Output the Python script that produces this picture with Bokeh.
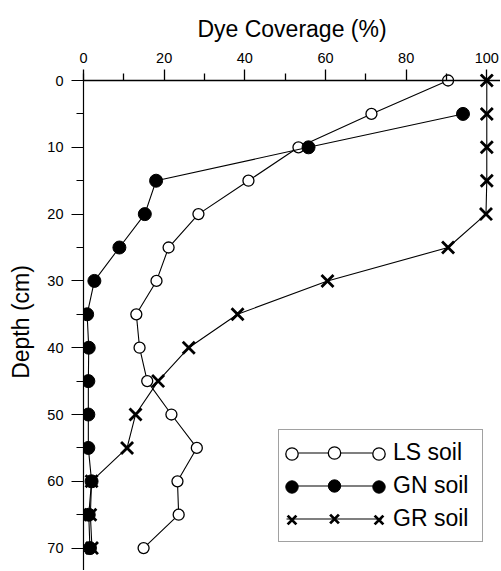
from bokeh.plotting import figure
from bokeh.models import Range1d, LinearAxis, FixedTicker, Legend, LegendItem, Span
from bokeh.core.properties import value
from bokeh.embed import file_html
from bokeh.resources import INLINE

# ---- data ----
depth = [0, 5, 10, 15, 20, 25, 30, 35, 40, 45, 50, 55, 60, 65, 70]
ls_cov = [90.4, 71.4, 53.3, 40.9, 28.5, 21.1, 18.1, 13.1, 13.9, 15.8, 21.8, 28.1, 23.3, 23.6, 14.9]
gn_depth = [5, 10, 15, 20, 25, 30, 35, 40, 45, 50, 55, 60, 65, 70]
gn_cov = [94.1, 55.8, 18.0, 15.2, 8.9, 2.7, 0.9, 1.3, 1.2, 1.2, 1.2, 2.0, 1.3, 1.6]
gr_cov = [100, 100, 100, 100, 99.8, 90.4, 60.5, 38.2, 26.1, 18.5, 12.9, 10.8, 2.0, 1.7, 2.1]
series_labels = ["LS soil", "GN soil", "GR soil"]

x_ticks = [0, 20, 40, 60, 80, 100]
x_minor = [10, 30, 50, 70, 90]
y_ticks = [0, 10, 20, 30, 40, 50, 60, 70]
y_minor = [5, 15, 25, 35, 45, 55, 65]

FONT = "Liberation Sans"

p = figure(width=500, height=570, output_backend="svg", toolbar_location=None,
           x_range=Range1d(0, 103.4), y_range=Range1d(73.35, -1.05),
           x_axis_location=None, y_axis_location="left",
           min_border_left=83, min_border_top=73, min_border_right=0, min_border_bottom=0)
p.grid.visible = False
p.outline_line_color = None
p.background_fill_color = "white"
p.border_fill_color = "white"

# top axis: labels, title and ticks reaching down to the depth-0 line
xl = LinearAxis(ticker=FixedTicker(ticks=x_ticks, minor_ticks=x_minor),
                axis_label="Dye Coverage (%)")
xl.axis_line_color = None
xl.major_tick_line_color = "black"
xl.minor_tick_line_color = "black"
xl.major_tick_line_width = 1.3
xl.minor_tick_line_width = 1.3
xl.major_tick_in = 7
xl.major_tick_out = 4
xl.minor_tick_in = 7
xl.minor_tick_out = 0
p.add_layout(xl, "above")

# the x-axis baseline sits at depth 0
p.add_layout(Span(location=0, dimension="width", line_color="black", line_width=1.3))

ya = p.yaxis[0]
ya.ticker = FixedTicker(ticks=y_ticks, minor_ticks=y_minor)
ya.axis_label = "Depth (cm)"
ya.axis_line_color = "black"
ya.axis_line_width = 1.2
ya.major_tick_line_color = "black"
ya.minor_tick_line_color = "black"
ya.major_tick_in = 0
ya.major_tick_out = 12
ya.minor_tick_in = 0
ya.minor_tick_out = 7

for ax in (xl, ya):
    ax.major_label_text_font = FONT
    ax.major_label_text_font_size = "14.5px"
    ax.major_label_text_color = "black"
    ax.axis_label_text_font = FONT
    ax.axis_label_text_font_size = "23px"
    ax.axis_label_text_font_style = "normal"
    ax.axis_label_text_color = "black"
xl.major_label_standoff = 7
xl.axis_label_standoff = 8
ya.major_label_standoff = 8
ya.axis_label_standoff = 10

# series (draw order: LS, GR, GN)
ls_line = p.line(ls_cov, depth, line_color="black", line_width=1.1)
ls_pts = p.scatter(ls_cov, depth, marker="circle", size=11, fill_color="white",
                   line_color="black", line_width=1.3)
gr_line = p.line(gr_cov, depth, line_color="black", line_width=1.1)
gr_pts = p.scatter(gr_cov, depth, marker="x", size=17, line_color="black", line_width=2.8)
gn_line = p.line(gn_cov, gn_depth, line_color="black", line_width=1.1)
gn_pts = p.scatter(gn_cov, gn_depth, marker="circle", size=13, fill_color="black",
                   line_color="black", line_width=1)

common = dict(glyph_height=31, spacing=2, padding=7, margin=0,
              label_text_font=FONT, label_text_font_size="23px",
              label_text_color="black")

main = Legend(items=[LegendItem(label=series_labels[0], renderers=[ls_line, ls_pts]),
                     LegendItem(label=series_labels[1], renderers=[gn_line, gn_pts]),
                     LegendItem(label=series_labels[2], renderers=[gr_line, gr_pts])],
              location=(195, 28), glyph_width=96, label_standoff=11, label_width=82,
              border_line_color="#444444", border_line_width=1.5,
              background_fill_color="white", background_fill_alpha=1, **common)
p.add_layout(main)

for xoff in (186, 273):
    ov = Legend(items=[LegendItem(label=value(""), renderers=[ls_pts]),
                       LegendItem(label=value(""), renderers=[gn_pts]),
                       LegendItem(label=value(""), renderers=[gr_pts])],
                location=(xoff, 28), glyph_width=31, label_standoff=0, label_width=0,
                border_line_alpha=0, background_fill_alpha=0, **common)
    p.add_layout(ov)

open("out.html", "w").write(file_html(p, INLINE))
